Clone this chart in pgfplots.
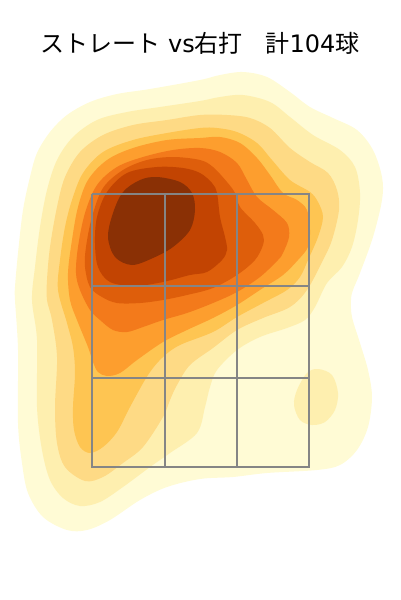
\documentclass[border=0pt]{standalone}
\usepackage{pgfplots}
\pgfplotsset{compat=1.18}
\usepackage{fontspec}
\setmainfont{DejaVu Sans}
\newfontfamily\cjk{Noto Sans CJK JP}
\definecolor{c1}{HTML}{FFFBD5}
\definecolor{c2}{HTML}{FEEFAF}
\definecolor{c3}{HTML}{FEDA85}
\definecolor{c4}{HTML}{FEC552}
\definecolor{c5}{HTML}{FD9E2E}
\definecolor{c6}{HTML}{F37A1B}
\definecolor{c7}{HTML}{DE5E0B}
\definecolor{c8}{HTML}{C24402}
\definecolor{c9}{HTML}{8A3005}
\definecolor{gl}{HTML}{858585}
\begin{document}
\begin{tikzpicture}
\path[use as bounding box] (0,0) rectangle (400pt,600pt);
\begin{axis}[
  at={(0,0)},anchor=south west,
  width=400pt,height=600pt,scale only axis,
  xmin=0,xmax=400,ymin=0,ymax=600,y dir=reverse,
  hide axis,clip=false,
  cs/.style={draw=none,smooth cycle,tension=0.55,mark=none},
  gridl/.style={gl,line width=2pt,mark=none},
]
\addplot[cs,fill=c1] coordinates {
(200,80)(150,89)(117,94)(90,102)(67,115)(50,132)(37,153)(30,177)(23,210)(18,253)(15,287)(15,300)(18,350)(18,423)(22,463)(28,493)(43,517)(67,530)(87,530)(110,520)(140,500)(167,487)(200,479)(233,477)(267,473)(317,470)(340,465)(357,450)(368,427)(372,397)(368,370)(360,343)(352,317)(351,300)(353,290)(360,273)(373,237)(382,200)(382,177)(373,150)(357,130)(333,118)(310,107)(290,92)(267,77)(243,72)(220,75)};
\addplot[cs,fill=c2] coordinates {
(200,101)(160,107)(127,112)(97,120)(73,137)(57,160)(47,190)(40,227)(35,267)(32,300)(37,340)(37,407)(42,450)(50,480)(63,498)(80,506)(100,502)(123,487)(150,467)(170,453)(197,433)(205,407)(210,387)(217,370)(237,350)(260,337)(287,328)(305,320)(315,307)(327,283)(342,267)(352,247)(358,220)(360,193)(355,167)(340,150)(313,135)(290,117)(270,102)(243,95)(220,97)};
\addplot[cs,fill=c2] coordinates {
(318,369)(332,375)(338,393)(335,410)(325,422)(312,425)(300,420)(294,405)(297,390)(307,373)};
\addplot[cs,fill=c3] coordinates {
(200,115)(167,120)(133,125)(103,135)(80,152)(65,177)(57,207)(50,247)(47,280)(47,300)(52,320)(57,357)(55,407)(57,443)(65,467)(85,481)(103,477)(123,463)(143,447)(163,417)(170,400)(177,385)(190,365)(213,348)(237,330)(263,318)(290,307)(307,290)(323,260)(332,240)(339,210)(337,190)(328,173)(310,162)(290,148)(270,128)(250,118)(227,115)};
\addplot[cs,fill=c4] coordinates {
(200,128)(167,133)(133,140)(103,152)(83,173)(72,200)(65,227)(60,260)(58,290)(67,323)(73,347)(75,373)(73,407)(74,430)(80,447)(90,453)(103,447)(117,432)(130,407)(148,375)(163,357)(180,345)(213,332)(237,317)(263,303)(287,290)(300,277)(308,260)(318,237)(323,217)(318,202)(310,192)(290,180)(272,160)(257,143)(237,132)(217,128)};
\addplot[cs,fill=c5] coordinates {
(200,138)(167,140)(133,148)(107,160)(88,180)(78,207)(72,240)(68,273)(70,300)(77,320)(88,347)(93,362)(98,372)(107,376)(120,373)(137,360)(163,342)(187,330)(213,318)(237,305)(263,288)(283,275)(298,260)(308,247)(310,230)(307,210)(297,200)(283,193)(270,175)(257,158)(240,143)(220,137)};
\addplot[cs,fill=c6] coordinates {
(200,148)(173,150)(143,157)(117,167)(97,185)(85,213)(78,247)(76,273)(80,290)(90,310)(100,320)(113,330)(127,332)(143,327)(163,320)(187,313)(213,303)(237,292)(260,277)(278,260)(283,253)(289,237)(287,223)(273,210)(257,197)(247,180)(237,163)(220,152)};
\addplot[cs,fill=c7] coordinates {
(200,160)(173,157)(147,160)(123,170)(103,188)(92,217)(86,247)(85,267)(90,287)(102,297)(117,303)(140,303)(163,300)(187,295)(213,288)(237,275)(255,260)(263,245)(263,235)(255,223)(240,207)(235,193)(227,182)(213,167)};
\addplot[cs,fill=c8] coordinates {
(157,167)(127,173)(107,192)(97,217)(95,243)(98,267)(110,282)(135,286)(163,282)(190,275)(207,272)(222,260)(227,250)(225,237)(220,217)(217,193)(212,183)(200,173)(183,168)};
\addplot[cs,fill=c9] coordinates {
(157,177)(180,182)(192,193)(195,210)(190,230)(173,247)(153,258)(132,265)(115,257)(108,237)(113,213)(123,192)(140,180)};
\addplot[gridl] coordinates {(91.5,193.5)(309,193.5)(309,467)(91.5,467)(91.5,193.5)};
\addplot[gridl] coordinates {(91.5,285.5)(309,285.5)};
\addplot[gridl] coordinates {(91.5,377.5)(309,377.5)};
\addplot[gridl] coordinates {(164.5,193.5)(164.5,467)};
\addplot[gridl] coordinates {(236.5,193.5)(236.5,467)};
\node[font=\fontsize{24}{28}\selectfont,text=black,anchor=center,inner sep=0pt] at (axis cs:200,43) {{\cjk ストレート} vs{\cjk 右打}\ \ \ {\cjk 計}104{\cjk 球}};
\end{axis}
\end{tikzpicture}
\end{document}
